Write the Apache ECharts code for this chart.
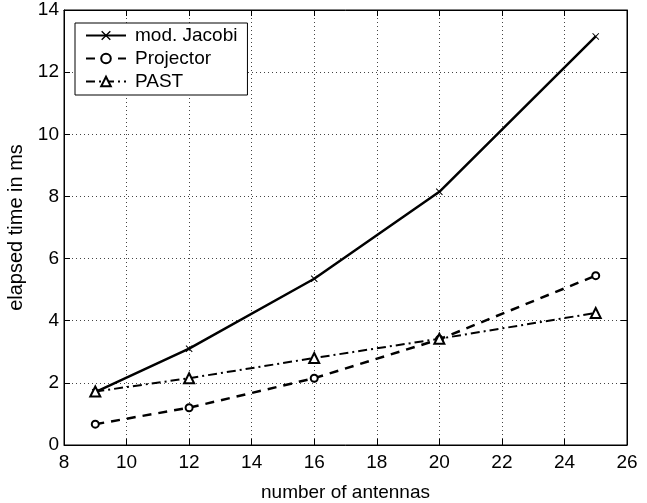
<!DOCTYPE html>
<html>
<head>
    <meta charset="utf-8">
    <title>elapsed time</title>
    <script src="https://cdn.jsdelivr.net/npm/echarts@6/dist/echarts.min.js"></script>
    <style>
        *{margin:0;padding:0}
        #main {
            width: 647px;
            height: 503px;
            background: #fff;
        }
    </style>
</head>
<body>
    <div id="main"></div>
    <script type="text/javascript">
        // 数据
        var antennas = [9, 12, 16, 20, 25];
        var jacobi = [1.7, 3.1, 5.35, 8.15, 13.15];
        var projector = [0.67, 1.2, 2.15, 3.4, 5.45];
        var past = [1.72, 2.15, 2.8, 3.42, 4.25];

        function pairs(ys) {
            return antennas.map(function (x, i) { return [x, ys[i]]; });
        }

        var font = 'Liberation Sans, Arial, sans-serif';
        var cross = 'path://M0,1L1,0L5,4L9,0L10,1L6,5L10,9L9,10L5,6L1,10L0,9L4,5Z';

        var myChart = echarts.init(document.getElementById('main'));

        var axisCommon = {
            type: 'value',
            axisLine: { show: true, onZero: false, lineStyle: { color: '#000', width: 1 } },
            axisTick: { show: true, inside: true, length: 6, lineStyle: { color: '#000' } }
        };

        var option = {
            backgroundColor: '#fff',
            animation: false,
            grid: {
                left: 64, right: 20, top: 10, bottom: 58,
                outerBoundsMode: 'none', containLabel: false,
                show: true, borderColor: '#000', borderWidth: 1
            },
            legend: {
                left: 75, top: 23,
                orient: 'vertical',
                padding: [3, 10, 4, 10],
                itemGap: 4,
                itemWidth: 40, itemHeight: 12,
                borderColor: '#000', borderWidth: 1,
                backgroundColor: '#fff',
                textStyle: { fontFamily: font, fontSize: 19, color: '#000', padding: [0, 0, 0, 4] },
                data: ['mod. Jacobi', 'Projector', 'PAST']
            },
            xAxis: [
                Object.assign({}, axisCommon, {
                    min: 8, max: 26, interval: 2,
                    name: 'number of antennas',
                    nameLocation: 'middle', nameGap: 38,
                    nameTextStyle: { fontFamily: font, fontSize: 19, color: '#000' },
                    axisLabel: { fontFamily: font, fontSize: 19, color: '#000', margin: 8 },
                    splitLine: { show: true, lineStyle: { type: [1, 3], color: '#444', width: 1 } }
                }),
                Object.assign({}, axisCommon, {
                    min: 8, max: 26, interval: 2, position: 'top',
                    axisLabel: { show: false }, splitLine: { show: false }
                })
            ],
            yAxis: [
                Object.assign({}, axisCommon, {
                    min: 0, max: 14, interval: 2,
                    name: 'elapsed time in ms',
                    nameLocation: 'middle', nameGap: 28,
                    nameTextStyle: { fontFamily: font, fontSize: 20, color: '#000' },
                    axisLabel: { fontFamily: font, fontSize: 19, color: '#000', margin: 5 },
                    splitLine: { show: true, lineStyle: { type: [1, 3], color: '#444', width: 1 } }
                }),
                Object.assign({}, axisCommon, {
                    min: 0, max: 14, interval: 2, position: 'right',
                    axisLabel: { show: false }, splitLine: { show: false }
                })
            ],
            series: [
                {
                    name: 'mod. Jacobi', type: 'line',
                    data: pairs(jacobi),
                    symbol: cross, symbolSize: 7,
                    itemStyle: { color: '#000' },
                    lineStyle: { color: '#000', width: 2.5 }
                },
                {
                    name: 'Projector', type: 'line',
                    data: pairs(projector),
                    symbol: 'emptyCircle', symbolSize: 7,
                    itemStyle: { color: '#000', borderWidth: 2.5 },
                    lineStyle: { color: '#000', width: 2.5, type: [9, 7] }
                },
                {
                    name: 'PAST', type: 'line',
                    data: pairs(past),
                    symbol: 'emptyTriangle', symbolSize: 10,
                    itemStyle: { color: '#000', borderWidth: 2.5 },
                    lineStyle: { color: '#000', width: 2, type: [9, 4, 2, 4] }
                }
            ]
        };

        myChart.setOption(option);
    </script>
</body>
</html>
